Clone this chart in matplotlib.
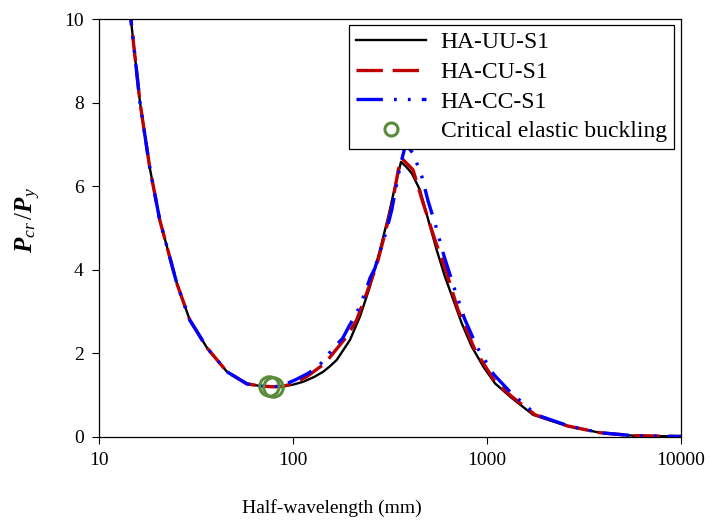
import matplotlib
matplotlib.use("Agg")
from matplotlib import pyplot as plt
import matplotlib.ticker as mtick

plt.rcParams['font.family'] = ['Liberation Serif', 'DejaVu Serif']
plt.rcParams['mathtext.fontset'] = 'custom'
plt.rcParams['mathtext.rm'] = 'Liberation Serif'
plt.rcParams['mathtext.it'] = 'Liberation Serif:italic'
plt.rcParams['mathtext.bf'] = 'Liberation Serif:italic:bold'
plt.rcParams['lines.scale_dashes'] = False

# half-wavelength (mm) and Pcr/Py
left_x = [14.0, 16.3, 18.3, 20.6, 25.2, 29.4, 36.1, 45.7, 57.9, 67.6, 78.0]
left_y = [10.8, 8.0, 6.44, 5.19, 3.68, 2.80, 2.13, 1.56, 1.27, 1.22, 1.20]

uu_x = left_x + [89.1, 100.0, 113.0, 128.0, 143.3, 155.0, 168.0, 196.7, 221.5,
                 249.4, 280.9, 309.9, 335.7, 360.3, 382.4, 409.2, 451.3, 498.2,
                 550.5, 607.4, 670.3, 740.6, 834.0, 957.1, 1099.6, 1341, 1726,
                 2584, 3821, 5657, 10000]
uu_y = left_y + [1.21, 1.25, 1.32, 1.43, 1.56, 1.69, 1.84, 2.32, 2.88,
                 3.60, 4.47, 5.27, 5.99, 6.58, 6.47, 6.31, 5.91, 5.19,
                 4.47, 3.83, 3.28, 2.72, 2.16, 1.68, 1.28, 0.93, 0.53,
                 0.26, 0.10, 0.03, 0.01]

cu_x = left_x + [89.1, 100.0, 117.7, 146.2, 189.2, 213.0, 239.8, 270.1, 292.1,
                 322.8, 349.0, 363.3, 415.6, 467.9, 539.5, 619.8, 708.8, 867.2,
                 1099.6, 1346, 1767, 2616, 3821, 5657, 10000]
cu_y = left_y + [1.21, 1.28, 1.44, 1.76, 2.40, 2.80, 3.44, 4.11, 4.71,
                 5.51, 6.39, 6.67, 6.39, 5.60, 4.71, 3.92, 3.04, 2.08,
                 1.32, 0.96, 0.53, 0.26, 0.10, 0.03, 0.01]

cc_x = left_x + [85.7, 102.4, 118.5, 135.0, 161.3, 180.4, 195.1, 213.0, 235.0,
                 249.4, 264.7, 275.3, 304.1, 322.8, 356.0, 381.0, 415.6, 462.2,
                 496.5, 542.6, 600.3, 675.9, 765.6, 888.2, 1080, 1314, 1789,
                 2646, 3821, 5657, 10000]
cc_y = left_y + [1.21, 1.36, 1.51, 1.68, 2.12, 2.36, 2.66, 2.96, 3.44,
                 3.80, 4.04, 4.31, 4.95, 5.43, 6.47, 7.0, 6.79, 6.22,
                 5.65, 5.07, 4.33, 3.58, 2.83, 2.15, 1.50, 1.08, 0.53,
                 0.26, 0.10, 0.03, 0.01]

crit_x = [75, 79]
crit_y = [1.21, 1.20]

fig = plt.figure(figsize=(7.11, 5.22), dpi=100)
ax = fig.add_axes([0.139, 0.163, 0.819, 0.8006])

ax.plot(uu_x, uu_y, color='black', lw=1.7, label='HA-UU-S1')
ax.plot(cu_x, cu_y, color='#c00000', lw=2.4, dashes=(19, 7), label='HA-CU-S1')
ax.plot(cc_x, cc_y, color='#0000ff', lw=2.4, dashes=(19, 8, 2, 8, 2, 8),
        label='HA-CC-S1')
ax.plot(crit_x, crit_y, ls='none', marker='o', ms=14, mfc='none', mec='#5a8a3c',
        mew=2.2, label='Critical elastic buckling')

ax.set_xscale('log')
ax.set_xlim(10, 10000)
ax.set_ylim(0, 10)
ax.set_yticks([0, 2, 4, 6, 8, 10])
ax.xaxis.set_major_formatter(mtick.FuncFormatter(lambda v, p: '%d' % v))
ax.xaxis.set_minor_locator(mtick.NullLocator())
ax.tick_params(axis='both', which='major', direction='out', length=5,
               width=0.8, labelsize=14, pad=6)
for s in ax.spines.values():
    s.set_linewidth(0.9)

ax.set_xlabel('Half-wavelength (mm)', fontsize=14)
ax.xaxis.set_label_coords(0.40, -0.148)
ax.set_ylabel(r'$\mathbf{P}_{cr}\,/\mathbf{P}_{y}$', fontsize=18)
ax.yaxis.set_label_coords(-0.096, 0.52)

leg = ax.legend(loc='upper right', bbox_to_anchor=(0.9875, 0.986),
                fontsize=17, frameon=True, fancybox=False,
                edgecolor='black', framealpha=1, handlelength=3.0,
                handletextpad=0.6, labelspacing=0.34, borderaxespad=0,
                borderpad=0.3, markerscale=0.67)
leg.get_frame().set_linewidth(0.9)

plt.savefig('out.png', dpi=100)
